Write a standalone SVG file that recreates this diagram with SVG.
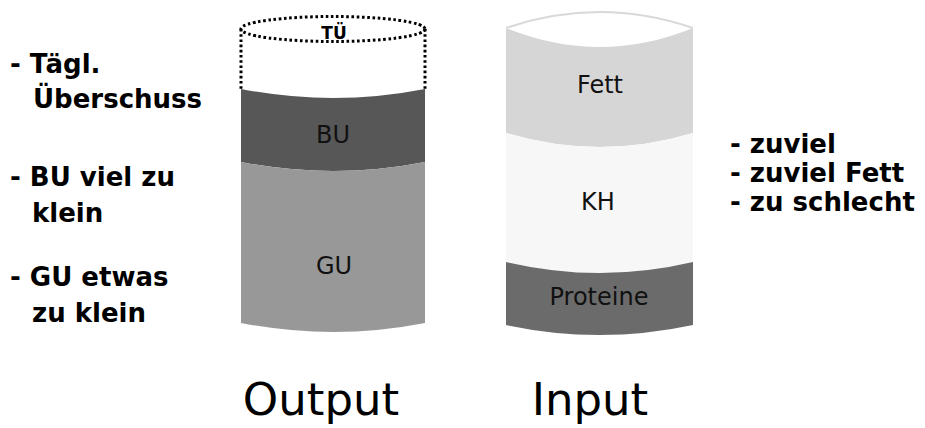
<svg xmlns="http://www.w3.org/2000/svg" width="925" height="428" viewBox="0 0 925 428">
<style>
.lbl{font-family:"DejaVu Sans","Verdana",sans-serif;font-size:24px;fill:#111;text-anchor:middle}
.note{font-family:"DejaVu Sans","Verdana",sans-serif;font-size:26px;font-weight:bold;fill:#000}
.big{font-family:"DejaVu Sans","Verdana",sans-serif;font-size:45px;fill:#000;text-anchor:middle}
.dot{fill:none;stroke:#000;stroke-width:3;stroke-dasharray:2.6 2.6}
</style>
<rect width="925" height="428" fill="#fff"/>
<g id="output-cylinder">
  <g id="tu">
    <line class="dot" x1="241" y1="29" x2="241" y2="89"/>
    <line class="dot" x1="425" y1="29" x2="425" y2="89"/>
    <ellipse class="dot" cx="333" cy="29" rx="92" ry="12.5"/>
    <text x="334" y="39" style="font-family:'DejaVu Sans',sans-serif;font-size:17px;font-weight:bold;text-anchor:middle">TÜ</text>
  </g>
  <g id="bu">
    <path d="M241,89 Q333,107 425,89 L425,162 Q333,180 241,162 Z" fill="#575757"/>
    <text class="lbl" x="333" y="143">BU</text>
  </g>
  <g id="gu">
    <path d="M241,162 Q333,180 425,162 L425,323 Q333,341 241,323 Z" fill="#989898"/>
    <text class="lbl" x="334" y="274">GU</text>
  </g>
  <text class="big" x="321" y="415">Output</text>
</g>
<g id="input-cylinder">
  <path d="M506,28 Q599.5,-4 693,28" fill="none" stroke="#d9d9d9" stroke-width="2"/>
  <g id="fett">
    <path d="M506,28 Q599.5,66 693,28 L693,133 Q599.5,161 506,133 Z" fill="#d6d6d6"/>
    <text class="lbl" x="600" y="93">Fett</text>
  </g>
  <g id="kh">
    <path d="M506,133 Q599.5,161 693,133 L693,262 Q599.5,284 506,262 Z" fill="#f7f7f7"/>
    <text class="lbl" x="598" y="210">KH</text>
  </g>
  <g id="proteine">
    <path d="M506,262 Q599.5,284 693,262 L693,325 Q599.5,345 506,325 Z" fill="#6b6b6b"/>
    <text class="lbl" x="599" y="305">Proteine</text>
  </g>
  <text class="big" x="590" y="415">Input</text>
</g>
<g id="left-notes">
  <text class="note" x="10" y="73">- Tägl.</text>
  <text class="note" x="33" y="108">Überschuss</text>
  <text class="note" x="10" y="186">- BU viel zu</text>
  <text class="note" x="32" y="222">klein</text>
  <text class="note" x="10" y="286">- GU etwas</text>
  <text class="note" x="32" y="322">zu klein</text>
</g>
<g id="right-notes">
  <text class="note" x="730" y="153">- zuviel</text>
  <text class="note" x="730" y="182">- zuviel Fett</text>
  <text class="note" x="730" y="211">- zu schlecht</text>
</g>
<g id="connectors"/>
</svg>
